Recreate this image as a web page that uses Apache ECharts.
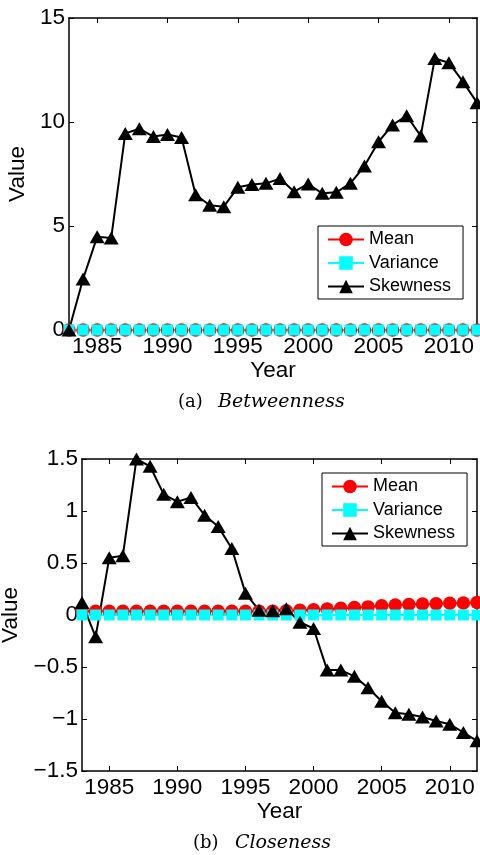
<!DOCTYPE html>
<html>
<head>
<meta charset="utf-8">
<script src="https://cdn.jsdelivr.net/npm/echarts@6/dist/echarts.min.js"></script>
<style>
  html, body { margin: 0; padding: 0; background: #fff; }
  #main { width: 480px; height: 855px; }
</style>
</head>
<body>
<div id="main"></div>
<script>
// Yearly statistics of two centrality measures, 1983-2012
const years = [1983, 1984, 1985, 1986, 1987, 1988, 1989, 1990, 1991, 1992,
               1993, 1994, 1995, 1996, 1997, 1998, 1999, 2000, 2001, 2002,
               2003, 2004, 2005, 2006, 2007, 2008, 2009, 2010, 2011, 2012];
const yearTicks = [1985, 1990, 1995, 2000, 2005, 2010];

// (a) Betweenness
const betweenMean = [0, 0, 0, 0, 0, 0, 0, 0, 0, 0, 0, 0, 0, 0, 0,
                     0, 0, 0, 0, 0, 0, 0, 0, 0, 0, 0, 0, 0, 0, 0];
const betweenVariance = [0, 0, 0, 0, 0, 0, 0, 0, 0, 0, 0, 0, 0, 0, 0,
                         0, 0, 0, 0, 0, 0, 0, 0, 0, 0, 0, 0, 0, 0, 0];
const betweenSkewness = [0, 2.45, 4.48, 4.42, 9.45, 9.68, 9.3, 9.4, 9.25, 6.5,
                         6.0, 5.93, 6.86, 7.0, 7.05, 7.28, 6.65, 7.02, 6.57, 6.62,
                         7.05, 7.88, 9.05, 9.86, 10.3, 9.33, 13.05, 12.85, 11.94, 10.93];

// (b) Closeness
const closeMean = [0.035, 0.035, 0.035, 0.035, 0.035, 0.035, 0.035, 0.035, 0.035, 0.035,
                   0.035, 0.035, 0.035, 0.035, 0.037, 0.04, 0.045, 0.05, 0.058, 0.065,
                   0.072, 0.078, 0.088, 0.095, 0.1, 0.105, 0.108, 0.112, 0.116, 0.12];
const closeVariance = [0, 0, 0, 0, 0, 0, 0, 0, 0, 0, 0, 0, 0, 0, 0,
                       0, 0, 0, 0, 0, 0, 0, 0, 0, 0, 0, 0, 0, 0, 0];
const closeSkewness = [0.12, -0.21, 0.55, 0.57, 1.5, 1.43, 1.16, 1.09, 1.13, 0.96,
                       0.85, 0.64, 0.21, 0.045, 0.04, 0.06, -0.07, -0.13, -0.53, -0.53,
                       -0.59, -0.70, -0.83, -0.94, -0.955, -0.98, -1.02, -1.05, -1.13, -1.21];

const SANS = '"Liberation Sans", Arial, sans-serif';
const SERIF = '"DejaVu Serif", serif';
const TICK_FONT = 22.5;

const pairs = vals => years.map((y, i) => [y, vals[i]]);
const fmtNum = v => String(Math.round(v * 10) / 10).replace('-', '\u2212');

function xAxes(gridIndex) {
  const common = {
    type: 'value', gridIndex, min: 1983, max: 2012,
    axisLine: { show: true, onZero: false, lineStyle: { color: '#000', width: 1.5 } },
    axisTick: { show: true, inside: true, length: 5, customValues: yearTicks,
                lineStyle: { color: '#000', width: 1 } },
    splitLine: { show: false }
  };
  return [
    Object.assign({}, common, {
      position: 'bottom',
      axisLabel: { customValues: yearTicks, formatter: v => String(v), margin: 5,
                   fontSize: TICK_FONT, color: '#000', fontFamily: SANS },
      name: 'Year', nameLocation: 'middle', nameGap: 27,
      nameTextStyle: { fontSize: TICK_FONT, color: '#000', fontFamily: SANS }
    }),
    Object.assign({}, common, { position: 'top', axisLabel: { show: false } })
  ];
}

function yAxes(gridIndex, min, max, interval, nameGap) {
  const common = {
    type: 'value', gridIndex, min, max, interval,
    axisLine: { show: true, onZero: false, lineStyle: { color: '#000', width: 1.5 } },
    axisTick: { show: true, inside: true, length: 5, lineStyle: { color: '#000', width: 1 } },
    splitLine: { show: false }
  };
  return [
    Object.assign({}, common, {
      position: 'left',
      axisLabel: { formatter: fmtNum, margin: 4, fontSize: TICK_FONT, color: '#000', fontFamily: SANS },
      name: 'Value', nameLocation: 'middle', nameGap,
      nameTextStyle: { fontSize: TICK_FONT, color: '#000', fontFamily: SANS }
    }),
    Object.assign({}, common, { position: 'right', axisLabel: { show: false } })
  ];
}

function seriesFor(axisOffset, mean, variance, skew) {
  const base = { type: 'line', xAxisIndex: axisOffset, yAxisIndex: axisOffset, animation: false };
  return [
    Object.assign({}, base, { name: 'Mean', data: pairs(mean), symbol: 'circle', symbolSize: 13.5,
      lineStyle: { color: '#ff0000', width: 2 }, itemStyle: { color: '#ff0000' } }),
    Object.assign({}, base, { name: 'Variance', data: pairs(variance), symbol: 'rect', symbolSize: 11,
      lineStyle: { color: '#00ffff', width: 2 }, itemStyle: { color: '#00ffff' } }),
    Object.assign({}, base, { name: 'Skewness', data: pairs(skew), symbol: 'triangle', symbolSize: [15, 13],
      lineStyle: { color: '#000', width: 2 }, itemStyle: { color: '#000' } })
  ];
}

function legendAt(left, top) {
  return {
    orient: 'vertical', left, top,
    data: ['Mean', 'Variance', 'Skewness'],
    itemWidth: 36, itemHeight: 17, itemGap: 5.5,
    padding: [4.5, 12, 3.5, 9],
    borderColor: '#000', borderWidth: 1, backgroundColor: '#fff',
    textStyle: { fontSize: 18, lineHeight: 18, color: '#000', fontFamily: SANS },
    selectedMode: false
  };
}

const chart = echarts.init(document.getElementById('main'), null, { renderer: 'canvas' });
chart.setOption({
  backgroundColor: '#fff',
  animation: false,
  grid: [
    { left: 69, top: 18, width: 408, height: 312, outerBoundsMode: 'none' },
    { left: 82, top: 459, width: 395, height: 312, outerBoundsMode: 'none' }
  ],
  xAxis: [...xAxes(0), ...xAxes(1)],
  yAxis: [...yAxes(0, 0, 15, 5, 32), ...yAxes(1, -1.5, 1.5, 0.5, 52)],
  legend: [legendAt(318, 226), legendAt(322, 473)],
  series: [
    ...seriesFor(0, betweenMean, betweenVariance, betweenSkewness),
    ...seriesFor(2, closeMean, closeVariance, closeSkewness)
  ],
  graphic: [
    { type: 'text', x: 178, y: 402, style: { text: '(a)', font: '18px ' + SERIF, fill: '#000', verticalAlign: 'middle' } },
    { type: 'text', x: 218, y: 402, style: { text: 'Betweenness', font: 'italic 19px ' + SERIF, fill: '#000', verticalAlign: 'middle' } },
    { type: 'text', x: 193, y: 843, style: { text: '(b)', font: '18px ' + SERIF, fill: '#000', verticalAlign: 'middle' } },
    { type: 'text', x: 235, y: 843, style: { text: 'Closeness', font: 'italic 19px ' + SERIF, fill: '#000', verticalAlign: 'middle' } }
  ]
});
</script>
</body>
</html>
